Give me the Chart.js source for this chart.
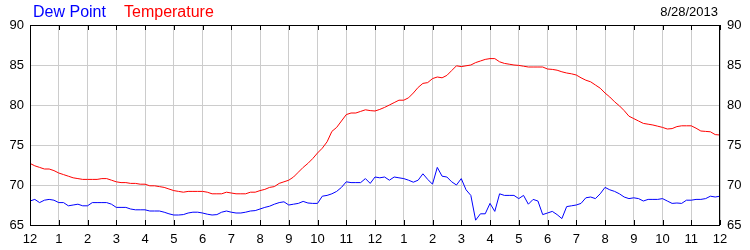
<!DOCTYPE html>
<html>
<head>
<meta charset="utf-8">
<script src="https://cdn.jsdelivr.net/npm/chart.js@4.4.1/dist/chart.umd.min.js"></script>
<style>
  html, body { margin: 0; padding: 0; background: #fff; }
  #wrap { position: relative; width: 750px; height: 250px; font-family: "Liberation Sans", Arial, sans-serif; }
  #grafico { position: absolute; left: 0; top: 0; }
  .leyenda { position: absolute; top: 2px; font-size: 16px; line-height: 20px; white-space: nowrap; }
  #fecha { position: absolute; right: 32px; top: 4px; font-size: 13px; line-height: 16px; color: #000; }
</style>
</head>
<body>
<div id="wrap">
  <canvas id="grafico" width="750" height="250"></canvas>
  <span class="leyenda" id="leyDew" style="left:33px;color:#0000ff">Dew Point</span>
  <span class="leyenda" id="leyTemp" style="left:124px;color:#ff0000">Temperature</span>
  <span id="fecha">8/28/2013</span>
</div>
<script>
// etiquetas de las horas (medianoche a medianoche)
const horaLabels = ['12', '1', '2', '3', '4', '5', '6', '7', '8', '9', '10', '11',
  '12', '1', '2', '3', '4', '5', '6', '7', '8', '9', '10', '11', '12'];

// lecturas cada 10 minutos, desde las 12 am hasta las 12 am del dia siguiente
const temperatura = [
  72.7, 72.4, 72.2, 72.0, 72.0, 71.8,
  71.5, 71.3, 71.1, 70.9, 70.8, 70.7,
  70.7, 70.7, 70.7, 70.8, 70.8, 70.6,
  70.4, 70.3, 70.3, 70.2, 70.2, 70.1,
  70.1, 69.9, 69.9, 69.8, 69.7, 69.5,
  69.3, 69.2, 69.1, 69.2, 69.2, 69.2,
  69.2, 69.1, 68.9, 68.9, 68.9, 69.1,
  69.0, 68.9, 68.9, 68.9, 69.1, 69.1,
  69.3, 69.45, 69.7, 69.8, 70.2, 70.4,
  70.6, 71.0, 71.6, 72.2, 72.7, 73.3,
  74.0, 74.6, 75.4, 76.7, 77.2, 78.0,
  78.8, 79.0, 79.0, 79.2, 79.4, 79.3,
  79.25, 79.45, 79.7, 80.0, 80.3, 80.6,
  80.6, 80.9, 81.5, 82.2, 82.7, 82.8,
  83.3, 83.5, 83.4, 83.7, 84.3, 84.9,
  84.8, 84.9, 85.0, 85.3, 85.5, 85.7,
  85.8, 85.8, 85.4, 85.2, 85.1, 85.0,
  84.95, 84.85, 84.75, 84.75, 84.75, 84.75,
  84.5, 84.45, 84.35, 84.15, 84.0, 83.9,
  83.75, 83.4, 83.1, 82.9, 82.5, 82.1,
  81.5, 81.0, 80.4, 79.9, 79.3, 78.6,
  78.3, 78.0, 77.7, 77.6, 77.5, 77.35,
  77.2, 77.0, 77.05, 77.3, 77.4, 77.4,
  77.4, 77.1, 76.75, 76.7, 76.65, 76.3,
  76.25
];

const puntoRocio = [
  68.0, 68.2, 67.8, 68.1, 68.2, 68.1,
  67.8, 67.8, 67.4, 67.5, 67.6, 67.4,
  67.4, 67.8, 67.8, 67.8, 67.8, 67.6,
  67.2, 67.2, 67.2, 67.0, 66.9, 66.9,
  66.9, 66.75, 66.75, 66.75, 66.6, 66.4,
  66.25, 66.25, 66.3, 66.5, 66.6, 66.6,
  66.5, 66.35, 66.25, 66.3, 66.6, 66.75,
  66.6, 66.5, 66.5, 66.6, 66.75, 66.8,
  67.0, 67.2, 67.35, 67.6, 67.8, 67.9,
  67.5, 67.6, 67.7, 67.95, 67.75, 67.7,
  67.7, 68.6, 68.7, 68.9, 69.2, 69.7,
  70.4, 70.3, 70.3, 70.3, 70.8, 70.2,
  71.0, 70.9, 71.0, 70.6, 71.0, 70.9,
  70.8, 70.6, 70.35, 70.6, 71.4, 70.7,
  70.1, 72.2, 71.1, 71.0, 70.4, 70.0,
  70.8, 69.4, 68.7, 65.6, 66.4, 66.4,
  67.7, 66.7, 68.9, 68.7, 68.7, 68.7,
  68.3, 68.7, 67.6, 68.2, 68.0, 66.3,
  66.5, 66.7, 66.3, 65.8, 67.3, 67.4,
  67.5, 67.7, 68.4, 68.5, 68.3, 68.9,
  69.7, 69.4, 69.2, 68.9, 68.5, 68.3,
  68.4, 68.3, 68.0, 68.2, 68.2, 68.2,
  68.3, 68.0, 67.7, 67.75, 67.7, 68.1,
  68.1, 68.2, 68.2, 68.3, 68.6, 68.5,
  68.6
];

const MUESTRAS_POR_HORA = 6;
const Y_MIN = 65;
const Y_MAX = 90;

// paso las lecturas a puntos {x: hora, y: valor}
function aPuntos(serie) {
  return serie.map((v, i) => ({ x: i / MUESTRAS_POR_HORA, y: v }));
}

// marco negro y marcas cortas hacia adentro arriba y abajo
const marcoPlugin = {
  id: 'marco',
  afterDraw(chart) {
    const { ctx, chartArea: a, scales } = chart;
    const x = scales.x;
    ctx.save();
    ctx.strokeStyle = '#000';
    ctx.lineWidth = 1;
    ctx.beginPath();
    for (let h = 0; h < horaLabels.length; h++) {
      const px = Math.round(x.getPixelForValue(h)) + 0.5;
      ctx.moveTo(px, a.top);
      ctx.lineTo(px, a.top + 5);
      ctx.moveTo(px, a.bottom);
      ctx.lineTo(px, a.bottom - 5);
    }
    ctx.stroke();
    ctx.strokeRect(Math.round(a.left) + 0.5, Math.round(a.top) + 0.5,
      Math.round(a.right - a.left) - 1, Math.round(a.bottom - a.top));
    ctx.restore();
  }
};

const fuenteTicks = { family: '"Liberation Sans", Arial, sans-serif', size: 13 };

const ctx = document.getElementById('grafico').getContext('2d');
new Chart(ctx, {
  type: 'line',
  data: {
    datasets: [
      { label: 'Dew Point', data: aPuntos(puntoRocio), borderColor: '#0000ff', borderWidth: 1, pointRadius: 0, tension: 0, yAxisID: 'y' },
      { label: 'Temperature', data: aPuntos(temperatura), borderColor: '#ff0000', borderWidth: 1, pointRadius: 0, tension: 0, yAxisID: 'y' }
    ]
  },
  options: {
    responsive: false,
    animation: false,
    devicePixelRatio: 1,
    layout: { padding: { top: 25, left: 0, right: 0, bottom: 0 } },
    plugins: { legend: { display: false }, tooltip: { enabled: false } },
    scales: {
      x: {
        type: 'linear',
        min: 0,
        max: horaLabels.length - 1,
        afterBuildTicks: scale => { scale.ticks = horaLabels.map((_, i) => ({ value: i })); },
        afterFit: scale => { scale.height = 25; },
        grid: { color: '#cccccc', drawTicks: false },
        border: { display: false },
        ticks: {
          autoSkip: false,
          maxRotation: 0,
          padding: 7,
          color: '#000',
          font: fuenteTicks,
          callback: v => horaLabels[v]
        }
      },
      y: {
        position: 'left',
        min: Y_MIN,
        max: Y_MAX,
        afterFit: scale => { scale.width = 30; },
        grid: { color: '#cccccc', drawTicks: false },
        border: { display: false },
        ticks: { stepSize: 5, padding: 6, color: '#000', font: fuenteTicks }
      },
      y2: {
        position: 'right',
        min: Y_MIN,
        max: Y_MAX,
        afterFit: scale => { scale.width = 30; },
        grid: { display: false, drawTicks: false },
        border: { display: false },
        ticks: { stepSize: 5, padding: 7, color: '#000', font: fuenteTicks }
      }
    }
  },
  plugins: [marcoPlugin]
});
</script>
</body>
</html>
